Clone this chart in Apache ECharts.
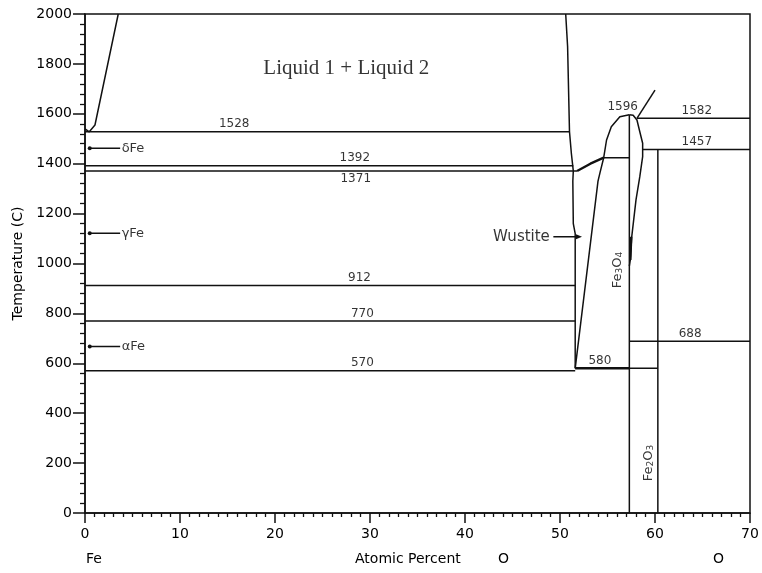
<!DOCTYPE html>
<html>
<head>
<meta charset="utf-8">
<script src="https://cdn.jsdelivr.net/npm/echarts@6/dist/echarts.min.js"></script>
<style>
  html, body { margin: 0; padding: 0; background: #fff; }
  #chart { width: 762px; height: 573px; }
</style>
</head>
<body>
<div id="chart"></div>
<script>
  // phase boundaries, [atomic % O, temperature C]
  const feLiquidus = [[0, 1540], [0.45, 1528], [1.05, 1555], [3.5, 2000]];
  const wustiteLeft = [[50.6, 2000], [50.8, 1870], [51.0, 1528], [51.2, 1440], [51.4, 1371], [51.35, 1330], [51.4, 1160], [51.6, 1120], [51.6, 580]];
  const wustiteLiquidus = [[51.8, 1371], [53.2, 1400], [54.6, 1424]];
  const wustiteRight = [[51.6, 580], [54.0, 1330], [54.2, 1362], [54.6, 1424], [54.9, 1495], [55.4, 1548], [56.3, 1588], [57.3, 1596]];
  const magnetiteRight = [[57.3, 1596], [57.7, 1594], [58.1, 1575], [58.4, 1528], [58.7, 1482], [58.7, 1428], [58.4, 1348], [58.0, 1255], [57.55, 1107], [57.4, 1014], [57.3, 990]];
  const magnetiteHeavy = [[57.5, 1107], [57.4, 1014]];
  const gasLine = [[58.1, 1582], [60.0, 1695]];

  // horizontal isotherms
  const isoTemps = [1528, 1392, 1371, 912, 770, 570, 580, 1424, 1582, 1457, 688];
  const isoFrom = [0, 0, 0, 0, 0, 0, 51.6, 54.6, 58.1, 58.7, 57.3];
  const isoTo = [51.0, 51.4, 51.8, 51.6, 51.6, 51.6, 60.3, 57.3, 70, 70, 70];
  const heavyIso = [[51.6, 580], [57.3, 580]];

  // vertical compound lines
  const verticalX = [57.3, 60.3];
  const verticalTop = [1596, 1457];

  // temperature labels
  const isoLabelText = ["1528", "1392", "1371", "912", "770", "570", "580", "688", "1596", "1582", "1457"];
  const isoLabelX = [15.7, 28.4, 28.5, 28.9, 29.2, 29.2, 54.2, 63.7, 56.6, 64.4, 64.4];

  // iron allotropes
  const feNames = ["δFe", "γFe", "αFe"];
  const feTemps = [1462, 1121, 667];
  const feArrowFrom = 0.5;
  const feArrowTo = 3.7;

  const wustiteArrow = [[49.3, 1107], [52.0, 1107]];

  const textColor = "#000";
  const lineColor = "#111";
  const font = "DejaVu Sans";

  function seg(name, data, width) {
    return {
      name,
      type: "line",
      data,
      showSymbol: false,
      symbol: "none",
      silent: true,
      animation: false,
      lineStyle: { color: lineColor, width: width || 1.5 },
    };
  }

  const series = [];
  series.push(seg("fe liquidus", feLiquidus));
  series.push(seg("wustite left", wustiteLeft));
  series.push(seg("wustite liquidus", wustiteLiquidus, 2.4));
  series.push(seg("wustite right", wustiteRight));
  series.push(seg("magnetite right", magnetiteRight));
  series.push(seg("magnetite heavy", magnetiteHeavy, 2.4));
  series.push(seg("gas", gasLine));
  isoTemps.forEach((t, i) => {
    series.push(seg(`iso ${t}`, [[isoFrom[i], t], [isoTo[i], t]]));
  });
  series.push(seg("iso 580 heavy", heavyIso, 2.4));
  verticalX.forEach((x, i) => {
    series.push(seg(`vertical ${x}`, [[x, verticalTop[i]], [x, 0]]));
  });

  // allotrope arrows
  feNames.forEach((n, i) => {
    series.push({
      ...seg(n, [
        { value: [feArrowFrom, feTemps[i]], symbol: "circle", symbolSize: 4 },
        { value: [feArrowTo, feTemps[i]], symbol: "none" },
      ]),
      showSymbol: true,
      itemStyle: { color: lineColor },
    });
  });
  series.push({
    ...seg("wustite arrow", [
      { value: wustiteArrow[0], symbol: "none" },
      { value: wustiteArrow[1], symbol: "triangle", symbolSize: [5, 6], symbolRotate: -90 },
    ]),
    showSymbol: true,
    itemStyle: { color: lineColor },
  });

  function textSeries(name, data, label) {
    return {
      name,
      type: "scatter",
      data,
      symbolSize: 1,
      silent: true,
      animation: false,
      itemStyle: { color: "rgba(0,0,0,0)" },
      label: {
        show: true,
        formatter: "{b}",
        color: textColor,
        fontFamily: font,
        fontSize: 12,
        ...label,
      },
    };
  }

  series.push(
    textSeries(
      "iso labels",
      isoLabelText.map((t, i) => ({
        name: t,
        value: [isoLabelX[i], Number(t)],
        label: t === "1371" ? { position: "bottom", distance: 1 } : {},
      })),
      { position: "top", distance: 1 },
    ),
  );
  series.push(
    textSeries(
      "fe labels",
      feNames.map((n, i) => ({ name: n, value: [feArrowTo, feTemps[i]] })),
      { position: "right", distance: 1, fontSize: 13 },
    ),
  );
  series.push(
    textSeries("wustite label", [{ name: "Wustite", value: wustiteArrow[0] }], {
      position: "left",
      distance: 3,
      fontSize: 15,
    }),
  );
  series.push(
    textSeries("liquid label", [{ name: "Liquid 1 + Liquid 2", value: [27.5, 1782] }], {
      position: "inside",
      fontFamily: "Liberation Serif",
      fontSize: 21,
    }),
  );
  series.push(
    textSeries(
      "oxide labels",
      [
        { name: "Fe3O4", value: [56.05, 974], label: { formatter: "Fe{s|3}O{s|4}" } },
        { name: "Fe2O3", value: [59.3, 200], label: { formatter: "Fe{s|2}O{s|3}" } },
      ],
      {
        position: "inside",
        rotate: 90,
        fontSize: 13,
        rich: { s: { fontSize: 9, fontFamily: font, color: textColor, verticalAlign: "bottom", padding: [5, 0, 0, 0] } },
      },
    ),
  );

  const chart = echarts.init(document.getElementById("chart"), null, { renderer: "canvas" });
  chart.setOption({
    backgroundColor: "#fff",
    animation: false,
    grid: {
      left: 85,
      right: 12,
      top: 14,
      bottom: 60,
      show: true,
      borderColor: lineColor,
      borderWidth: 1.5,
    },
    xAxis: {
      type: "value",
      min: 0,
      max: 70,
      interval: 10,
      axisLine: { show: true, onZero: false, lineStyle: { color: lineColor, width: 1.5 } },
      axisTick: { show: true, length: 10, lineStyle: { color: lineColor, width: 1.5 } },
      minorTick: { show: true, splitNumber: 10, length: 4, lineStyle: { color: lineColor, width: 1.3 } },
      splitLine: { show: false },
      axisLabel: { color: textColor, fontFamily: font, fontSize: 14, margin: 14 },
    },
    yAxis: {
      type: "value",
      min: 0,
      max: 2000,
      interval: 200,
      name: "Temperature (C)",
      nameLocation: "middle",
      nameRotate: 90,
      nameGap: 57,
      nameTextStyle: { color: textColor, fontFamily: font, fontSize: 14 },
      axisLine: { show: true, onZero: false, lineStyle: { color: lineColor, width: 1.5 } },
      axisTick: { show: true, length: 12, lineStyle: { color: lineColor, width: 1.5 } },
      minorTick: { show: true, splitNumber: 5, length: 5, lineStyle: { color: lineColor, width: 1.3 } },
      splitLine: { show: false },
      axisLabel: {
        color: textColor,
        fontFamily: font,
        fontSize: 14,
        margin: 13,
        formatter: (value) => String(value),
      },
    },
    graphic: [
      { type: "text", left: 86, top: 552, style: { text: "Fe", font: `14px "${font}"`, fill: textColor } },
      { type: "text", left: 355, top: 552, style: { text: "Atomic Percent", font: `14px "${font}"`, fill: textColor } },
      { type: "text", left: 498, top: 552, style: { text: "O", font: `14px "${font}"`, fill: textColor } },
      { type: "text", left: 713, top: 552, style: { text: "O", font: `14px "${font}"`, fill: textColor } },
    ],
    series,
  });
</script>
</body>
</html>
